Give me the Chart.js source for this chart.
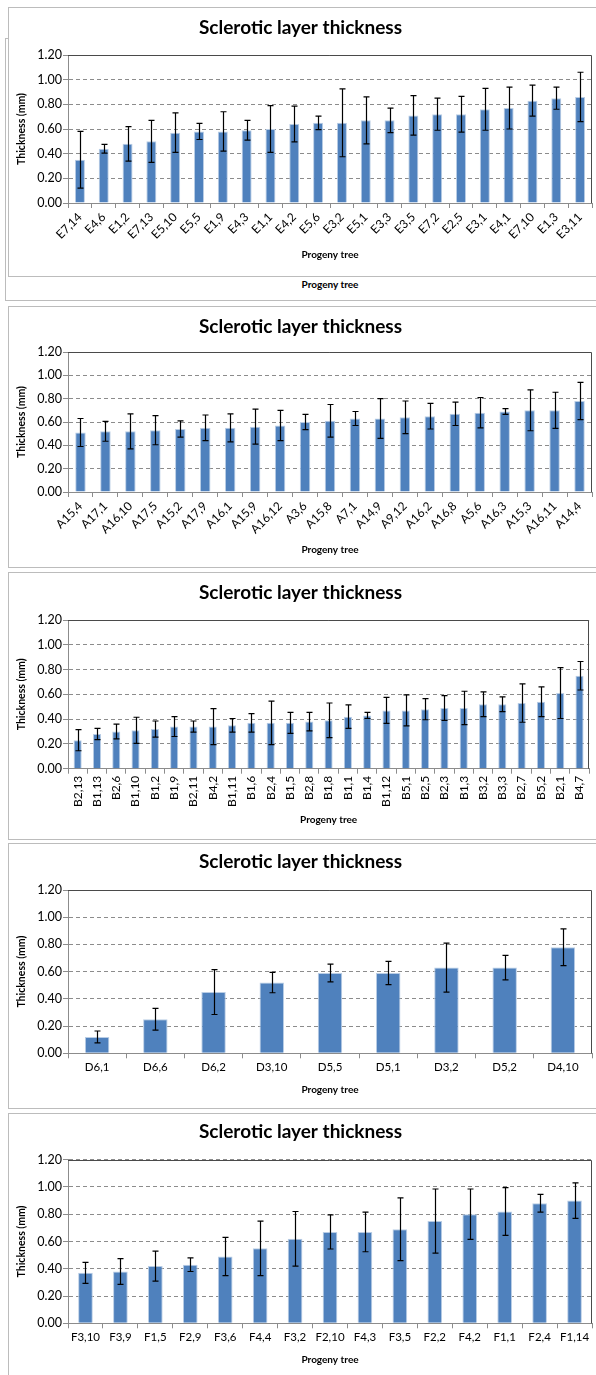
<!DOCTYPE html>
<html>
<head>
<meta charset="utf-8">
<script src="https://cdn.jsdelivr.net/npm/chart.js@4.4.1/dist/chart.umd.min.js"></script>
<style>
body { margin:0; width:596px; height:1375px; background:#fff; overflow:hidden; position:relative; font-family:Lato, sans-serif; }
.box { position:absolute; left:8px; width:600px; border:1px solid #bcbcbc; background:#fff; box-sizing:border-box; }
.box canvas { position:absolute; left:0; top:0; }
#back1 { left:5px; top:38px; height:263px; }
#lbl1 { position:absolute; left:280px; width:100px; top:278px; text-align:center; font:bold 10px Lato, sans-serif; line-height:12px; color:#000; }
</style>
</head>
<body>
<div class="box" id="back1"></div>
<div id="lbl1">Progeny tree</div>
<div class="box" style="top:7px;height:270px"><canvas id="c1" width="587" height="267"></canvas></div>
<div class="box" style="top:306px;height:262px"><canvas id="c2" width="587" height="259"></canvas></div>
<div class="box" style="top:572px;height:268px"><canvas id="c3" width="587" height="265"></canvas></div>
<div class="box" style="top:843px;height:266px"><canvas id="c4" width="587" height="263"></canvas></div>
<div class="box" style="top:1113px;height:280px"><canvas id="c5" width="587" height="261"></canvas></div>
<script>
// E progeny
const eLabels = ['E7,14','E4,6','E1,2','E7,13','E5,10','E5,5','E1,9','E4,3','E1,1','E4,2','E5,6','E3,2','E5,1','E3,3','E3,5','E7,2','E2,5','E3,1','E4,1','E7,10','E1,3','E3,11'];
const eMeans = [0.35,0.44,0.48,0.50,0.57,0.58,0.58,0.59,0.60,0.64,0.65,0.65,0.67,0.67,0.71,0.72,0.72,0.76,0.77,0.83,0.85,0.86];
const eErr = [0.23,0.035,0.14,0.17,0.16,0.065,0.16,0.08,0.19,0.145,0.055,0.275,0.19,0.10,0.16,0.13,0.145,0.17,0.17,0.125,0.09,0.20];

// A progeny
const aLabels = ['A15,4','A17,1','A16,10','A17,5','A15,2','A17,9','A16,1','A15,9','A16,12','A3,6','A15,8','A7,1','A14,9','A9,12','A16,2','A16,8','A5,6','A16,3','A15,3','A16,11','A14,4'];
const aMeans = [0.51,0.52,0.52,0.53,0.54,0.55,0.55,0.56,0.57,0.60,0.61,0.63,0.63,0.64,0.65,0.67,0.68,0.69,0.70,0.70,0.78];
const aErr = [0.12,0.085,0.15,0.125,0.07,0.11,0.12,0.15,0.13,0.065,0.14,0.06,0.17,0.14,0.11,0.10,0.13,0.025,0.175,0.155,0.16];

// B progeny
const bLabels = ['B2,13','B1,13','B2,6','B1,10','B1,2','B1,9','B2,11','B4,2','B1,11','B1,6','B2,4','B1,5','B2,8','B1,8','B1,1','B1,4','B1,12','B5,1','B2,5','B2,3','B1,3','B3,2','B3,3','B2,7','B5,2','B2,1','B4,7'];
const bMeans = [0.23,0.28,0.30,0.31,0.32,0.34,0.34,0.34,0.35,0.37,0.37,0.37,0.38,0.39,0.42,0.43,0.47,0.47,0.48,0.49,0.49,0.52,0.52,0.53,0.54,0.61,0.75];
const bErr = [0.085,0.045,0.06,0.105,0.065,0.08,0.045,0.145,0.055,0.075,0.175,0.085,0.075,0.14,0.095,0.025,0.105,0.125,0.085,0.10,0.135,0.10,0.06,0.155,0.12,0.205,0.115];

// D progeny
const dLabels = ['D6,1','D6,6','D6,2','D3,10','D5,5','D5,1','D3,2','D5,2','D4,10'];
const dMeans = [0.12,0.25,0.45,0.52,0.59,0.59,0.63,0.63,0.78];
const dErr = [0.044,0.08,0.165,0.075,0.065,0.085,0.18,0.09,0.135];

// F progeny
const fLabels = ['F3,10','F3,9','F1,5','F2,9','F3,6','F4,4','F3,2','F2,10','F4,3','F3,5','F2,2','F4,2','F1,1','F2,4','F1,14'];
const fMeans = [0.37,0.38,0.42,0.43,0.49,0.55,0.62,0.67,0.67,0.69,0.75,0.80,0.82,0.88,0.90];
const fErr = [0.077,0.095,0.11,0.05,0.14,0.2,0.2,0.125,0.145,0.23,0.235,0.185,0.175,0.065,0.13];

Chart.defaults.font.family = 'Lato';
Chart.defaults.color = '#000';

// error bars drawn from the dataset's errors through the scales
const errorBars = {
  id: 'errorBars',
  afterDatasetsDraw(chart) {
    const ds = chart.data.datasets[0];
    const xs = chart.scales.x, ys = chart.scales.y;
    const ctx = chart.ctx;
    ctx.save();
    ctx.strokeStyle = '#000';
    ctx.lineWidth = 1.2;
    ds.data.forEach(function(v, i) {
      const px = Math.round(xs.getPixelForValue(i)) + 0.5;
      const top = ys.getPixelForValue(v + ds.errors[i]);
      const bot = ys.getPixelForValue(v - ds.errors[i]);
      ctx.beginPath();
      ctx.moveTo(px, top); ctx.lineTo(px, bot);
      ctx.moveTo(px - 3, top); ctx.lineTo(px + 3, top);
      ctx.moveTo(px - 3, bot); ctx.lineTo(px + 3, bot);
      ctx.stroke();
    });
    ctx.restore();
  }
};

// top and right edge of the plot area
const plotFrame = {
  id: 'plotFrame',
  afterDraw(chart) {
    const a = chart.chartArea, c = chart.ctx;
    c.save();
    c.strokeStyle = '#4a4a4a';
    c.lineWidth = 1;
    c.beginPath();
    c.moveTo(a.left, Math.round(a.top) + 0.5);
    c.lineTo(Math.round(a.right) - 0.5, Math.round(a.top) + 0.5);
    c.lineTo(Math.round(a.right) - 0.5, a.bottom);
    c.stroke();
    c.restore();
  }
};

function makeChart(id, labels, means, errors, rot, lay) {
  return new Chart(document.getElementById(id), {
    type: 'bar',
    data: {
      labels: labels,
      datasets: [{
        data: means,
        errors: errors,
        backgroundColor: '#4f81bd',
        borderColor: '#b9cde5',
        borderWidth: 1,
        barPercentage: 0.42,
        categoryPercentage: 1
      }]
    },
    options: {
      responsive: false,
      animation: false,
      layout: { padding: { left: 0, right: 4, top: 0, bottom: 0 } },
      plugins: {
        legend: { display: false },
        tooltip: { enabled: false },
        title: {
          display: true,
          text: 'Sclerotic layer thickness',
          color: '#000',
          font: { size: 19, weight: 'bold', lineHeight: 1.2 },
          padding: { top: lay.tTop, bottom: lay.tBot }
        }
      },
      scales: {
        x: {
          offset: true,
          ticks: { autoSkip: false, minRotation: rot, maxRotation: rot, font: { size: lay.xFont }, padding: 2 },
          grid: { offset: true, drawOnChartArea: false, tickLength: 5, color: '#8c8c8c' },
          border: { color: '#8c8c8c' },
          title: { display: true, text: 'Progeny tree', font: { size: 10, weight: 'bold', lineHeight: 1.2 }, padding: { top: 0, bottom: lay.axBot } },
          afterFit: function(s) { s.height = lay.xH; }
        },
        y: {
          min: 0,
          max: 1.2,
          ticks: { stepSize: 0.2, callback: function(v) { return v.toFixed(2); }, font: { size: 12.5 }, padding: 1 },
          grid: { color: '#8c8c8c', tickLength: 5, tickBorderDash: [] },
          border: { color: '#8c8c8c', dash: [4, 3] },
          title: { display: true, text: 'Thickness (mm)', font: { size: 10.5, weight: 'bold', lineHeight: 1.2 }, padding: { top: 6.7, bottom: 0 } },
          afterFit: function(s) { s.width = 59; }
        }
      }
    },
    plugins: [errorBars, plotFrame]
  });
}

makeChart('c1', eLabels, eMeans, eErr, 45, { tTop: 8.6, tBot: 15.6, xH: 72, axBot: 14.0, xFont: 12 });
makeChart('c2', aLabels, aMeans, aErr, 45, { tTop: 8.6, tBot: 13.6, xH: 74, axBot: 10.0, xFont: 12 });
makeChart('c3', bLabels, bMeans, bErr, 90, { tTop: 8.9, tBot: 15.3, xH: 69.3, axBot: 12.0, xFont: 12 });
makeChart('c4', dLabels, dMeans, dErr, 0, { tTop: 6.9, tBot: 16.3, xH: 53.7, axBot: 11.7, xFont: 11.5 });
makeChart('c5', fLabels, fMeans, fErr, 0, { tTop: 6.9, tBot: 16.0, xH: 51.7, axBot: 9.7, xFont: 11.5 });
</script>
</body>
</html>
